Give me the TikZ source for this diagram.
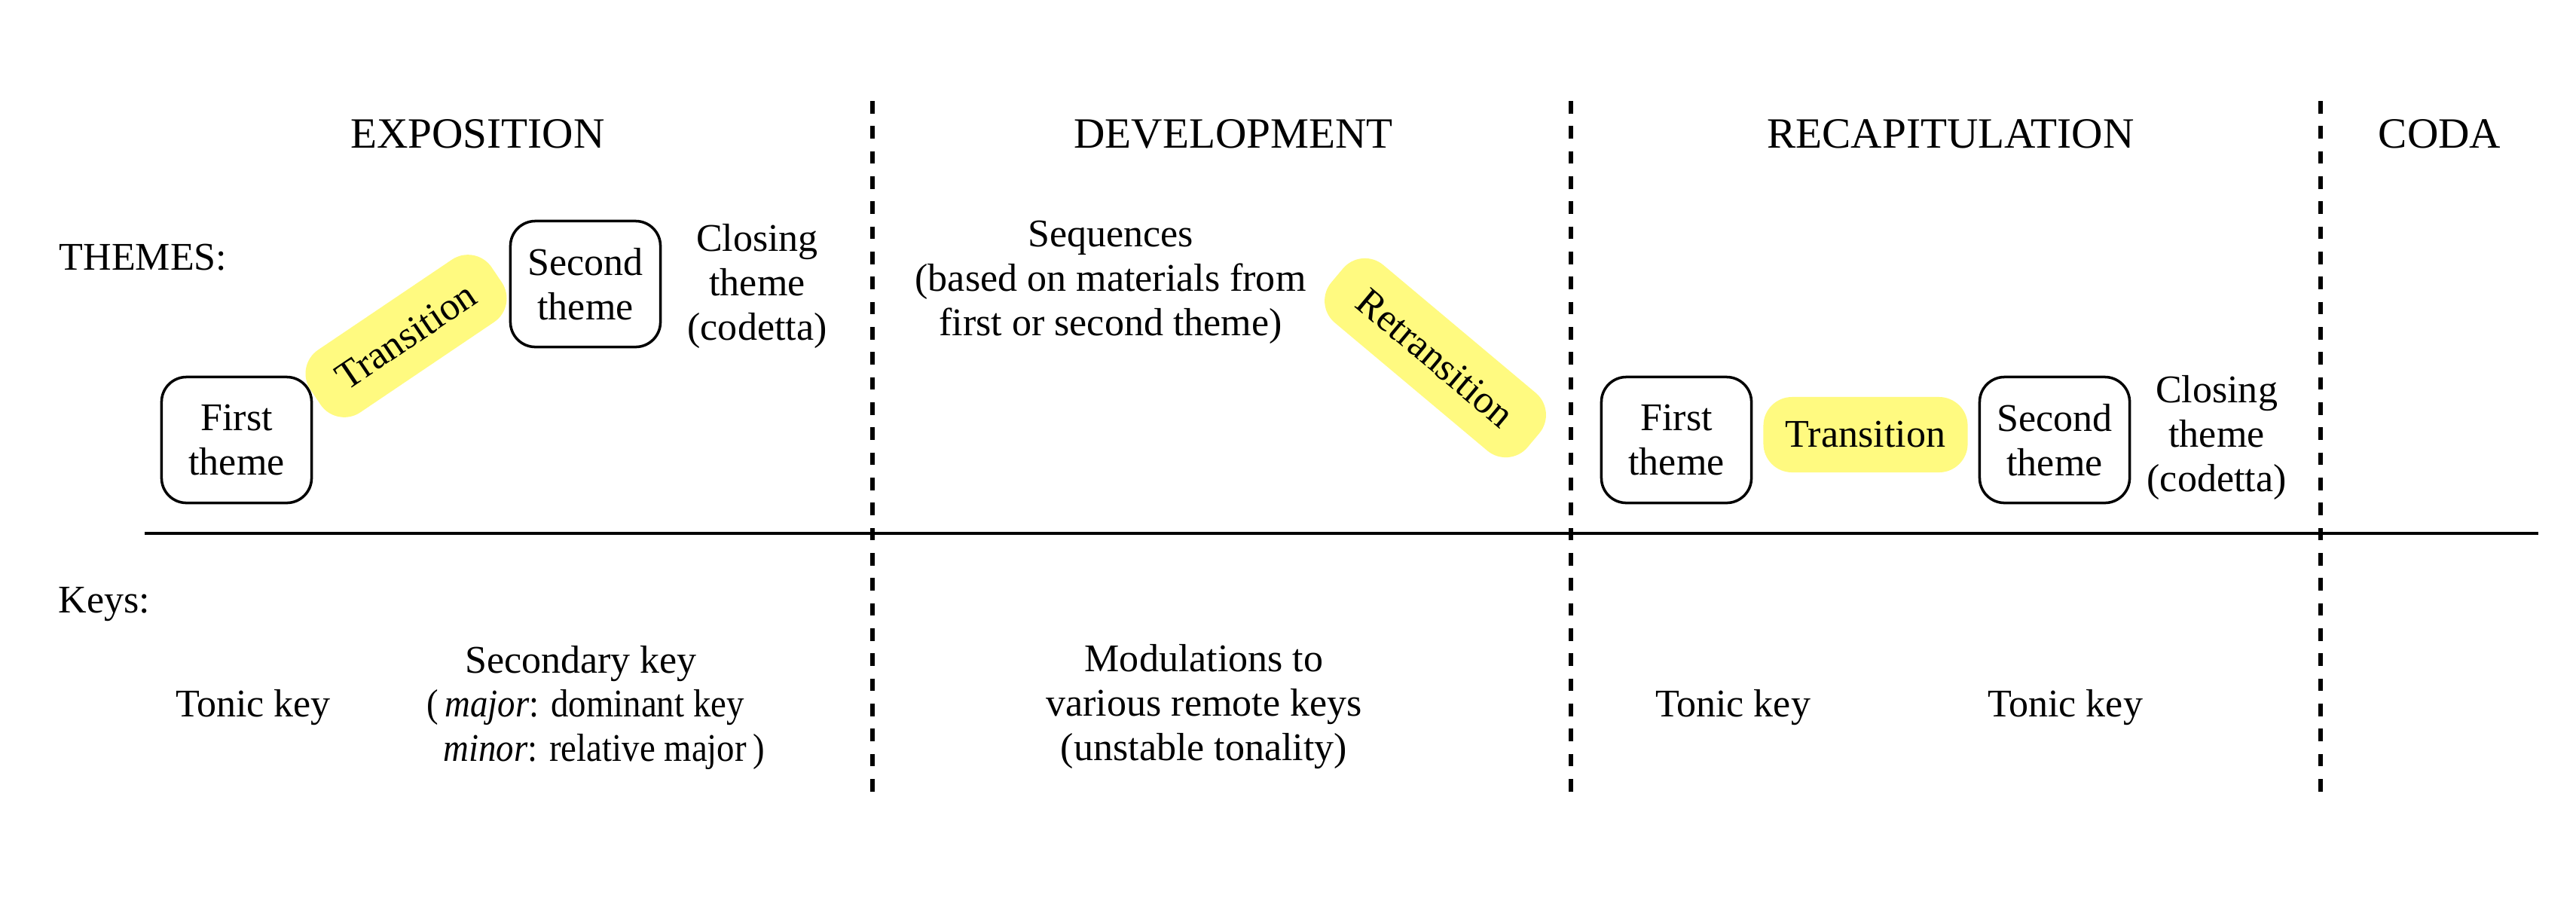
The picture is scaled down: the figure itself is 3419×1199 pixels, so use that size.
\documentclass[tikz,border=0pt]{standalone}
\usepackage{fontspec}
\setmainfont{Liberation Serif}
\newfontfamily\narrowserif[FakeStretch=0.9]{Liberation Serif}
\definecolor{hl}{RGB}{255,250,128}
\begin{document}
\begin{tikzpicture}[x=0.01cm,y=-0.01cm,
  body/.style={font=\fontsize{14.8}{16.7}\selectfont, align=center, inner sep=0pt},
  narrowbody/.style={font=\narrowserif\fontsize{14.8}{16.7}\selectfont, inner sep=0pt},
  title/.style={font=\fontsize{16.3}{18}\selectfont, inner sep=0pt},
  themebox/.style={body, draw, line width=1pt, rounded corners=0.33cm, minimum width=1.99cm, minimum height=1.67cm},
  pill/.style={body, fill=hl, rounded corners=0.38cm, minimum height=1.0cm},
  divider/.style={line width=1.7pt, dash pattern=on 4.74pt off 4.74pt},
  axis/.style={line width=1.3pt}]
\useasboundingbox (0,0) rectangle (3419,1199);

% section titles
\node[title] (texpo) at (634,178) {EXPOSITION};
\node[title] (tdev) at (1637,178) {DEVELOPMENT};
\node[title] (trecap) at (2589,178) {RECAPITULATION};
\node[title] (tcoda) at (3238,178) {CODA};

% row labels
\node[body, anchor=west] (themes) at (78,342) {THEMES:};
\node[body, anchor=base west] (keys) at (77,813) {Keys:};

% dividers
\coordinate (h1) at (192,708);
\coordinate (h2) at (3369,708);
\draw[axis] (h1) -- (h2);
\foreach \xx/\nm in {1158/a,2085/b,3080/c}{
  \coordinate (d\nm1) at (\xx,134);
  \coordinate (d\nm2) at (\xx,1051);
  \draw[divider] (d\nm1) -- (d\nm2);
}

% exposition themes
\node[themebox] (first1) at (314,584) {First\\theme};
\node[pill, rotate=34, minimum width=2.9cm] (trans1) at (539,446) {Transition};
\node[themebox] (second1) at (777,377) {Second\\theme};
\node[body] (close1) at (1005,380) {Closing\\theme\\(codetta)};

% development
\node[body] (seq) at (1474,375) {Sequences\\(based on materials from\\first or second theme)};
\node[pill, rotate=-40, minimum width=3.4cm] (retrans) at (1905,475) {Retransition};

% recapitulation themes
\node[themebox] (first2) at (2225,584) {First\\theme};
\node[pill, minimum width=2.71cm] (trans2) at (2476,577) {Transition};
\node[themebox] (second2) at (2727,584) {Second\\theme};
\node[body] (close2) at (2942,581) {Closing\\theme\\(codetta)};

% keys
\node[body, anchor=base] (tonic1) at (336,951) {Tonic key};
\node[body, anchor=base] (seckey) at (771,893) {Secondary key};
\node[narrowbody, anchor=base west] (major) at (590,951) {\llap{(\,}\textit{major}: dominant key};
\node[narrowbody, anchor=base west] (minor) at (588,1010) {\textit{minor}: relative major\,)};
\node[body] (modul) at (1598,938) {Modulations to\\various remote keys\\(unstable tonality)};
\node[body, anchor=base] (tonic2) at (2300,951) {Tonic key};
\node[body, anchor=base] (tonic3) at (2741,951) {Tonic key};
\end{tikzpicture}
\end{document}
